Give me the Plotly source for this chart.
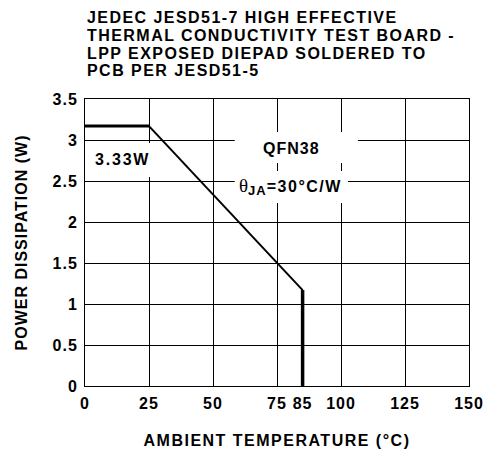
import plotly.graph_objects as go

# ---- data ----
plateau_temp = [0, 25]
plateau_power = [3.17, 3.17]
derate_temp = [25, 85]
derate_power = [3.17, 1.17]
cutoff_temp = [85, 85]
cutoff_power = [1.17, 0]

x_ticks = [0, 25, 50, 75, 85, 100, 125, 150]
x_grid = [25, 50, 75, 100, 125]
y_ticks = [0, 0.5, 1, 1.5, 2, 2.5, 3, 3.5]
y_tick_text = ["0", "0.5", "1", "1.5", "2", "2.5", "3", "3.5"]

title_lines = [
    "JEDEC JESD51-7 HIGH EFFECTIVE",
    "THERMAL CONDUCTIVITY TEST BOARD -",
    "LPP EXPOSED DIEPAD SOLDERED TO",
    "PCB PER JESD51-5",
]
x_title = "AMBIENT TEMPERATURE (°C)"
y_title = "POWER DISSIPATION (W)"
power_label = "3.33W"
package_label = "QFN38"

FONT = "Liberation Sans, Arial, Helvetica, sans-serif"


def sp(t, ls=1.0):
    return f'<span style="letter-spacing:{ls}px">{t}</span>'


fig = go.Figure()
fig.add_trace(go.Scatter(x=plateau_temp, y=plateau_power, mode="lines",
                         line=dict(color="black", width=3), showlegend=False))
fig.add_trace(go.Scatter(x=derate_temp, y=derate_power, mode="lines",
                         line=dict(color="black", width=2), showlegend=False))
fig.add_trace(go.Scatter(x=cutoff_temp, y=cutoff_power, mode="lines",
                         line=dict(color="black", width=3.5), showlegend=False))

fig.update_layout(
    width=486, height=450,
    margin=dict(l=85, r=17, t=99, b=64, autoexpand=False),
    paper_bgcolor="white", plot_bgcolor="white",
    font=dict(family=FONT, size=16, color="black", weight="bold"),
    showlegend=False,
)

fig.update_xaxes(
    range=[0, 150], tickmode="array", tickvals=x_ticks,
    ticktext=[sp(str(v), 1.0) for v in x_ticks],
    showgrid=False, zeroline=False, automargin=False,
    showline=True, linecolor="black", linewidth=1, mirror=True,
    ticks="", ticklabelstandoff=3, ticklabeloverflow="allow",
    minor=dict(tickvals=x_grid, showgrid=True, gridcolor="black", gridwidth=1, ticks=""),
    title=dict(text=sp(x_title, 1.5), standoff=23, font=dict(size=16)),
)
fig.update_yaxes(
    range=[0, 3.5], tickmode="array", tickvals=y_ticks,
    ticktext=[sp(t, 1.0) for t in y_tick_text],
    showgrid=True, gridcolor="black", gridwidth=1, zeroline=False, automargin=False,
    showline=True, linecolor="black", linewidth=1, mirror=True,
    ticks="", ticklabelstandoff=3,
    title=dict(text=sp(y_title, 1.0), standoff=20, font=dict(size=16)),
)

# white boxes that interrupt the grid behind the labels
boxes = [
    (2.2, 26.9, 2.549, 2.963),
    (58.5, 106.6, 2.720, 3.098),
    (58.5, 102.7, 2.232, 2.622),
]
for x0, x1, y0, y1 in boxes:
    fig.add_shape(type="rect", xref="x", yref="y", x0=x0, x1=x1, y0=y0, y1=y1,
                  fillcolor="white", line=dict(width=0), layer="between")

fig.add_annotation(x=14.5, y=2.767, xref="x", yref="y", text=sp(power_label, 1.8),
                   showarrow=False, font=dict(size=16))
fig.add_annotation(x=80.7, y=2.895, xref="x", yref="y", text=sp(package_label, 1.0),
                   showarrow=False, font=dict(size=16))
theta = ('<span style="font-family:Liberation Serif, Times New Roman, serif;'
         'font-weight:normal;font-size:19px">θ</span>'
         '<sub><span style="font-size:13px;letter-spacing:1px">JA</span></sub>'
         + sp("=30°C/W", 1.5))
fig.add_annotation(x=80.4, y=2.43, xref="x", yref="y", text=theta,
                   showarrow=False, font=dict(size=16))

title_y_px = [17.5, 35.5, 53.5, 71.0]
for line, ypx in zip(title_lines, title_y_px):
    fig.add_annotation(x=0, y=1 + (99 - ypx) / 287, xref="paper", yref="paper",
                       xanchor="left", yanchor="middle", text=sp(line, 1.45),
                       showarrow=False, font=dict(size=16))

# remove the default 8px page margin so the 486x450 figure fills the window
fig.write_html("out.html", config={"displayModeBar": False},
               post_script="document.body.style.margin='0';")
